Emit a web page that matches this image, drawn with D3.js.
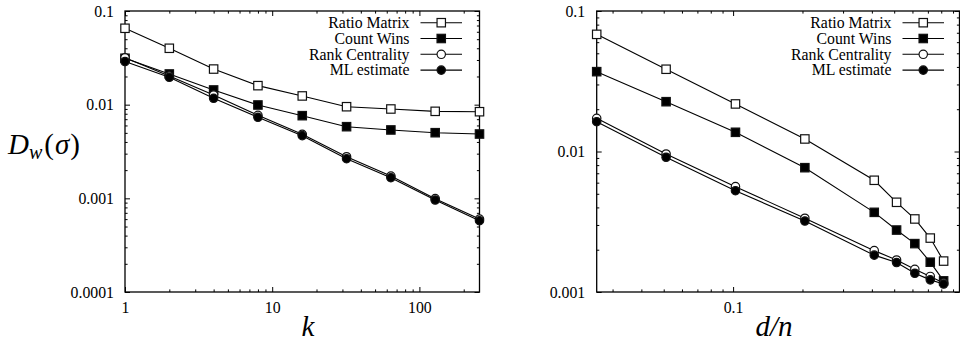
<!DOCTYPE html>
<html>
<head>
<meta charset="utf-8">
<script src="https://cdn.jsdelivr.net/npm/d3@7"></script>
<style>
  html, body { margin: 0; padding: 0; background: #fff; }
  svg { display: block; }
</style>
</head>
<body>
<svg id="chart" width="960" height="346"></svg>
<script>
// ---------- data ----------
const kValues = [1, 2, 4, 8, 16, 32, 64, 128, 256];
const leftRatioMatrix   = [0.0654, 0.0400, 0.0240, 0.01596, 0.01239, 0.00951, 0.00899, 0.00849, 0.00841];
const leftCountWins     = [0.0313, 0.02126, 0.01435, 0.00992, 0.00763, 0.00582, 0.00537, 0.00502, 0.00486];
const leftRankCentrality= [0.0317, 0.02023, 0.01268, 0.0077, 0.00483, 0.00278, 0.00173, 0.000992, 0.000600];
const leftMLEstimate    = [0.0289, 0.0196, 0.0117, 0.00733, 0.00467, 0.00265, 0.00166, 0.00096, 0.000577];

const dnValues = [0.0256, 0.0512, 0.1024, 0.2048, 0.4096, 0.512, 0.6144, 0.7168, 0.8192];
const rightRatioMatrix   = [0.0682, 0.0385, 0.0218, 0.01228, 0.00624, 0.00435, 0.00331, 0.00242, 0.00166];
const rightCountWins     = [0.0370, 0.02262, 0.0137, 0.00767, 0.00369, 0.00276, 0.00221, 0.00163, 0.00120];
const rightRankCentrality= [0.01723, 0.0096, 0.00562, 0.00335, 0.00197, 0.00169, 0.00145, 0.00129, 0.00116];
const rightMLEstimate    = [0.0163, 0.0091, 0.00526, 0.0032, 0.00183, 0.00162, 0.00136, 0.00122, 0.00114];

const seriesNames = ["Ratio Matrix", "Count Wins", "Rank Centrality", "ML estimate"];
const seriesMarkers = ["openSquare", "filledSquare", "openCircle", "filledCircle"];

const leftXTicks = [1, 10, 100];
const leftXTickLabels = ["1", "10", "100"];
const leftYTicks = [0.0001, 0.001, 0.01, 0.1];
const leftYTickLabels = ["0.0001", "0.001", "0.01", "0.1"];
const rightXTicks = [0.1];
const rightXTickLabels = ["0.1"];
const rightYTicks = [0.001, 0.01, 0.1];
const rightYTickLabels = ["0.001", "0.01", "0.1"];

// ---------- drawing ----------
const svg = d3.select("#chart");
const FONT = '"Liberation Serif"';
const FS = 15.8;

function minorTicks(domain, majors) {
  const out = [];
  const lo = Math.min(domain[0], domain[1]), hi = Math.max(domain[0], domain[1]);
  for (let e = -6; e <= 4; e++) {
    for (let m = 1; m <= 9; m++) {
      const v = +(m * Math.pow(10, e)).toPrecision(6);
      if (v >= lo * 0.9999 && v <= hi * 1.0001 && !majors.some(t => Math.abs(t - v) / v < 1e-6)) out.push(v);
    }
  }
  return out;
}

function drawMarker(g, type, x, y) {
  const s = 8.4, r = 4.2;
  if (type === "openSquare" || type === "filledSquare") {
    g.append("rect")
      .attr("x", x - s / 2).attr("y", y - s / 2)
      .attr("width", s).attr("height", s)
      .attr("fill", type === "openSquare" ? "#fff" : "#000")
      .attr("stroke", "#111").attr("stroke-width", 1.2);
  } else {
    g.append("circle")
      .attr("cx", x).attr("cy", y).attr("r", r)
      .attr("fill", type === "openCircle" ? "#fff" : "#000")
      .attr("stroke", "#111").attr("stroke-width", 1.2);
  }
}

function panel(cfg) {
  const x = d3.scaleLog().domain(cfg.xDomain).range([cfg.left, cfg.right]);
  const y = d3.scaleLog().domain(cfg.yDomain).range([cfg.bottom, cfg.top]);
  const g = svg.append("g");
  const W = cfg.right - cfg.left, H = cfg.bottom - cfg.top;
  const major = 5, minor = 2.6;

  const xb = d3.axisBottom(x).tickValues(cfg.xTicks)
    .tickFormat((d, i) => cfg.xTickLabels[i]).tickSize(-major).tickPadding(10);
  const gxb = g.append("g").attr("transform", `translate(0,${cfg.bottom})`).call(xb);
  const yl = d3.axisLeft(y).tickValues(cfg.yTicks)
    .tickFormat((d, i) => cfg.yTickLabels[i]).tickSize(-major).tickPadding(cfg.yPad);
  const gyl = g.append("g").attr("transform", `translate(${cfg.left},0)`).call(yl);
  const gxt = g.append("g").attr("transform", `translate(0,${cfg.top})`)
    .call(d3.axisTop(x).tickValues(cfg.xTicks).tickFormat("").tickSize(-major));
  const gyr = g.append("g").attr("transform", `translate(${cfg.right},0)`)
    .call(d3.axisRight(y).tickValues(cfg.yTicks).tickFormat("").tickSize(-major));
  const xm = minorTicks(cfg.xDomain, cfg.xTicks);
  const ym = minorTicks(cfg.yDomain, cfg.yTicks);
  const m1 = g.append("g").attr("transform", `translate(0,${cfg.bottom})`)
    .call(d3.axisBottom(x).tickValues(xm).tickFormat("").tickSize(-minor));
  const m2 = g.append("g").attr("transform", `translate(0,${cfg.top})`)
    .call(d3.axisTop(x).tickValues(xm).tickFormat("").tickSize(-minor));
  const m3 = g.append("g").attr("transform", `translate(${cfg.left},0)`)
    .call(d3.axisLeft(y).tickValues(ym).tickFormat("").tickSize(-minor));
  const m4 = g.append("g").attr("transform", `translate(${cfg.right},0)`)
    .call(d3.axisRight(y).tickValues(ym).tickFormat("").tickSize(-minor));
  [gxb, gyl, gxt, gyr, m1, m2, m3, m4].forEach(a => {
    a.select(".domain").remove();
    a.attr("font-family", null).attr("font-size", null);
    a.selectAll(".tick line").attr("stroke", "#000").attr("stroke-width", 1);
    a.selectAll("text").style("font-size", FS + "px").style("font-family", FONT).attr("fill", "#000");
  });

  g.append("rect").attr("x", cfg.left).attr("y", cfg.top).attr("width", W).attr("height", H)
    .attr("fill", "none").attr("stroke", "#000").attr("stroke-width", 1.3);

  const line = d3.line().x(d => x(d[0])).y(d => y(d[1]));
  const lg = g.append("g");
  cfg.series.forEach((vals) => {
    const pts = cfg.xValues.map((xv, i) => [xv, vals[i]]);
    lg.append("path").datum(pts).attr("d", line)
      .attr("fill", "none").attr("stroke", "#000").attr("stroke-width", 1.1);
  });
  cfg.series.forEach((vals, si) => {
    cfg.xValues.forEach((xv, i) => drawMarker(lg, seriesMarkers[si], x(xv), y(vals[i])));
  });

  const leg = g.append("g");
  seriesNames.forEach((name, i) => {
    const yy = cfg.legY0 + i * cfg.legDy;
    leg.append("text").attr("x", cfg.legTextX).attr("y", yy).attr("dy", "0.33em")
      .attr("text-anchor", "end").style("font-size", FS + "px").style("font-family", FONT).text(name);
    leg.append("line").attr("x1", cfg.legLine[0]).attr("x2", cfg.legLine[1])
      .attr("y1", yy).attr("y2", yy).attr("stroke", "#000").attr("stroke-width", 1.1);
    drawMarker(leg, seriesMarkers[i], (cfg.legLine[0] + cfg.legLine[1]) / 2, yy);
  });
}

panel({
  left: 125, right: 479.5, top: 11, bottom: 292,
  xDomain: [1, 256], yDomain: [0.0001, 0.1],
  xTicks: leftXTicks, xTickLabels: leftXTickLabels,
  yTicks: leftYTicks, yTickLabels: leftYTickLabels, yPad: 11,
  xValues: kValues,
  series: [leftRatioMatrix, leftCountWins, leftRankCentrality, leftMLEstimate],
  legY0: 22.7, legDy: 15.8, legTextX: 409.5, legLine: [420.5, 462]
});

panel({
  left: 596.7, right: 959.5, top: 11, bottom: 292,
  xDomain: [0.0256, 0.96], yDomain: [0.001, 0.1],
  xTicks: rightXTicks, xTickLabels: rightXTickLabels,
  yTicks: rightYTicks, yTickLabels: rightYTickLabels, yPad: 11.5,
  xValues: dnValues,
  series: [rightRatioMatrix, rightCountWins, rightRankCentrality, rightMLEstimate],
  legY0: 22.7, legDy: 15.8, legTextX: 891.5, legLine: [902.5, 944]
});

// axis titles
const yt = svg.append("text").attr("x", 8).attr("y", 154)
  .style("font-family", FONT).style("font-size", "29px");
yt.append("tspan").style("font-style", "italic").text("D");
yt.append("tspan").style("font-style", "italic").style("font-size", "20px").attr("dy", 5).text("w");
yt.append("tspan").attr("dy", -5).attr("dx", 2).text("(");
yt.append("tspan").style("font-style", "italic").attr("dx", 1).text("σ");
yt.append("tspan").attr("dx", 1).text(")");

svg.append("text").attr("x", 308).attr("y", 336).attr("text-anchor", "middle")
  .style("font-family", FONT).style("font-size", "29px").style("font-style", "italic").text("k");
svg.append("text").attr("x", 774).attr("y", 336).attr("text-anchor", "middle")
  .style("font-family", FONT).style("font-size", "29px").style("font-style", "italic").text("d/n");
</script>
</body>
</html>
